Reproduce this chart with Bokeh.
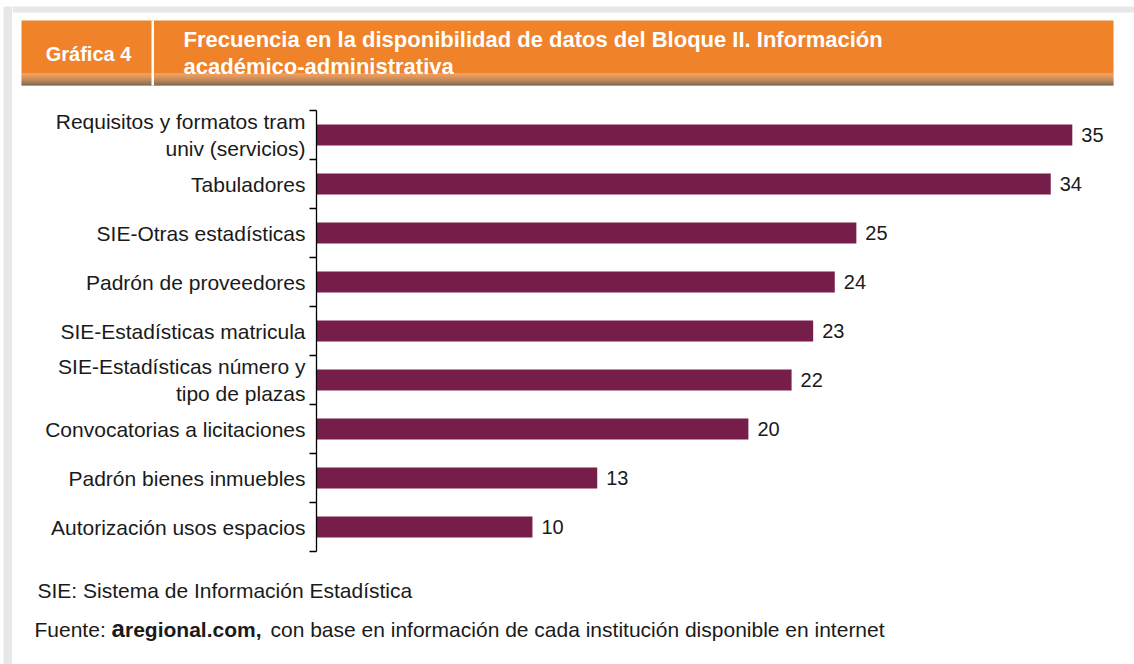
from bokeh.plotting import figure
from bokeh.layouts import row, column
from bokeh.models import Range1d, LinearAxis, FixedTicker, Label, ColumnDataSource
from bokeh.core.properties import value
from bokeh.embed import file_html
from bokeh.resources import INLINE

# ---------------- data ----------------
categories = [
    "Requisitos y formatos tram\nuniv (servicios)",
    "Tabuladores",
    "SIE-Otras estadísticas",
    "Padrón de proveedores",
    "SIE-Estadísticas matricula",
    "SIE-Estadísticas número y\ntipo de plazas",
    "Convocatorias a licitaciones",
    "Padrón bienes inmuebles",
    "Autorización usos espacios",
]
values = [35, 34, 25, 24, 23, 22, 20, 13, 10]
value_labels = [str(v) for v in values]

header_tag = "Gráfica 4"
title_lines = ["Frecuencia en la disponibilidad de datos del Bloque II. Información",
               "académico-administrativa"]
note_text = "SIE: Sistema de Información Estadística"
source_prefix = "Fuente: "
source_bold_a = "a"
source_bold_rest = "regional.com,"
source_rest = "con base en información de cada institución disponible en internet"

# ---------------- style ----------------
FONT = "Liberation Sans"
BAR = "#771d49"
ORANGE = "#f08229"
BROWN = "#5a3c1c"
GRAY = "#e6e7e8"
TXT = "#1a1a1a"

W, H = 1134, 664
STRIP_W = 12
COL_W = W - STRIP_W
HEAD_H, FOOT_H = 98, 104
MAIN_H = H - HEAD_H - FOOT_H


def deco_fig(width, height, x0, y0):
    """A figure whose frame fills it, with pixel-like coordinates (y downward)."""
    f = figure(width=width, height=height, output_backend="svg", toolbar_location=None,
               x_range=Range1d(x0, x0 + width), y_range=Range1d(y0 + height, y0),
               x_axis_location=None, y_axis_location=None, min_border=0,
               frame_align=False)
    f.grid.visible = False
    f.outline_line_color = None
    f.background_fill_color = "white"
    f.border_fill_color = "white"
    return f


def lab(f, x, y, text, size, bold=False, color=TXT, align="left", baseline="middle"):
    f.add_layout(Label(x=x, y=y, text=text, text_font=FONT, text_font_size=size,
                       text_font_style="bold" if bold else "normal",
                       text_color=color, text_align=align, text_baseline=baseline))


def mix(c1, c2, t):
    a = [int(c1[i:i + 2], 16) for i in (1, 3, 5)]
    b = [int(c2[i:i + 2], 16) for i in (1, 3, 5)]
    return "#%02x%02x%02x" % tuple(round(a[k] + (b[k] - a[k]) * t) for k in range(3))


# ---------------- left gray strip ----------------
strip = deco_fig(STRIP_W, H, 0, 0)
strip.quad(left=[3], right=[STRIP_W], top=[6], bottom=[H], fill_color=GRAY, line_color=None)

# ---------------- header ----------------
head = deco_fig(COL_W, HEAD_H, STRIP_W, 0)
hl, hr, ht, hb, hg = [STRIP_W], [W], [6], [12], [GRAY]
hl.append(21); hr.append(1113); ht.append(20); hb.append(73); hg.append(ORANGE)
n = 12
for i in range(n):
    hl.append(21); hr.append(1113); ht.append(73 + i); hb.append(74 + i)
    hg.append(mix(ORANGE, BROWN, ((i + 1) / n) ** 1.5))
hl.append(151); hr.append(153.5); ht.append(20); hb.append(85); hg.append("white")
head.quad(left=hl, right=hr, top=ht, bottom=hb, fill_color=hg, line_color=None)

lab(head, 88, 53, header_tag, "20px", bold=True, color="white", align="center")
lab(head, 183, 39, title_lines[0], "22px", bold=True, color="white")
lab(head, 183, 66, title_lines[1], "22px", bold=True, color="white")

# ---------------- main chart ----------------
n_cat = len(categories)
ypos = [n_cat - i - 0.5 for i in range(n_cat)]   # first category at the top
bounds = list(range(n_cat + 1))

p = figure(width=COL_W, height=MAIN_H, output_backend="svg", toolbar_location=None,
           x_range=Range1d(0, 37), y_range=Range1d(0, n_cat),
           x_axis_location=None, y_axis_location=None, frame_align=False,
           min_border_left=304, min_border_right=19, min_border_top=12, min_border_bottom=9)
p.grid.visible = False
p.outline_line_color = None
p.background_fill_color = "white"
p.border_fill_color = "white"

yaxis = LinearAxis(ticker=FixedTicker(ticks=ypos, minor_ticks=bounds),
                   major_label_overrides={y: c for y, c in zip(ypos, categories)},
                   major_tick_line_color=None, major_tick_out=0, major_tick_in=0,
                   minor_tick_line_color="black", minor_tick_line_width=1.3,
                   minor_tick_out=7, minor_tick_in=0,
                   axis_line_color="black", axis_line_width=1.3,
                   major_label_standoff=4, major_label_text_font=FONT,
                   major_label_text_font_size="21px", major_label_text_color=TXT)
p.add_layout(yaxis, "left")

src = ColumnDataSource(dict(y=ypos, val=values, lab=value_labels))
p.hbar(y="y", right="val", left=0, height=0.43, source=src, fill_color=BAR, line_color=None)
p.text(x="val", y="y", text="lab", source=src, x_offset=9, text_baseline="middle",
       text_align="left", text_font=value(FONT), text_font_size="20px", text_color=TXT)

# ---------------- footer ----------------
foot = deco_fig(COL_W, FOOT_H, STRIP_W, HEAD_H + MAIN_H)
lab(foot, 37, 590, note_text, "21px")
lab(foot, 34, 629, source_prefix, "21px")
lab(foot, 111, 628, source_bold_a, "24px", bold=True)
lab(foot, 124.5, 629, source_bold_rest, "21px", bold=True)
lab(foot, 270, 629, source_rest, "21px")

layout = row(strip, column(head, p, foot, spacing=0), spacing=0)
open("out.html", "w").write(file_html(layout, INLINE))
